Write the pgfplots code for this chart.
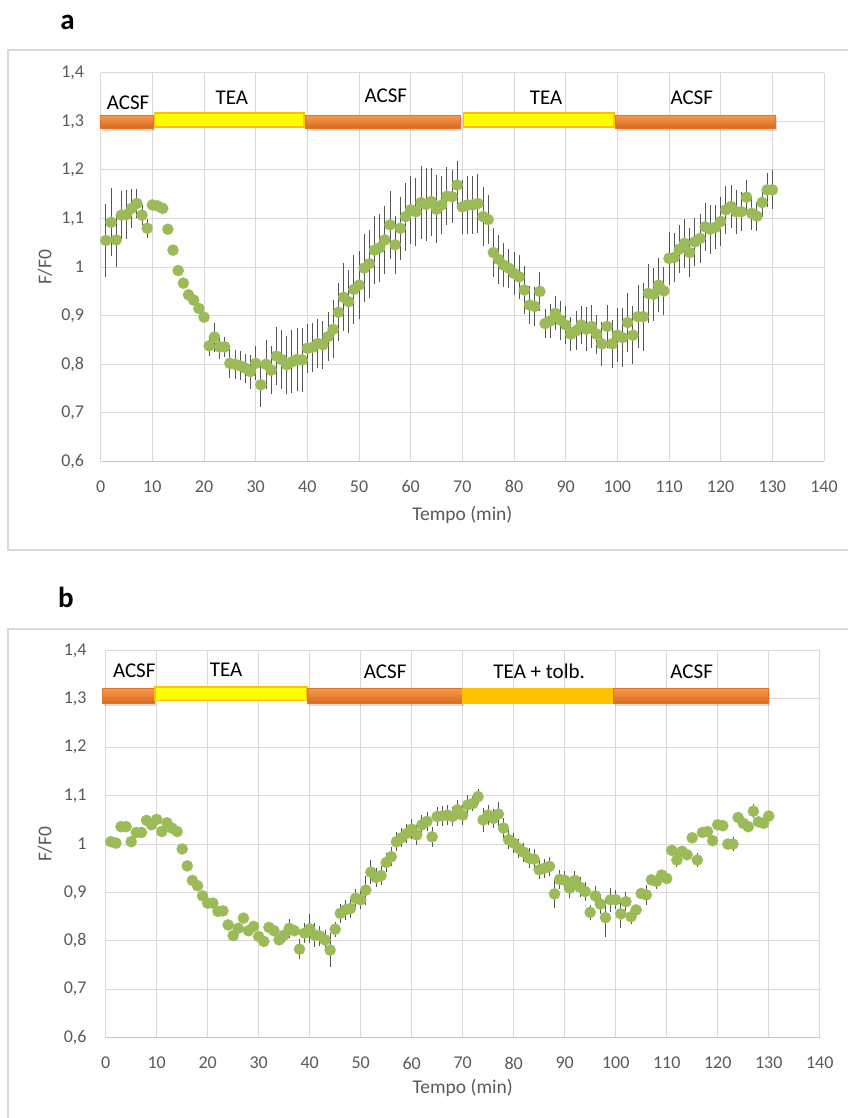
\documentclass[border=0pt]{standalone}
\usepackage{fontspec}
\setmainfont{Carlito}
\usepackage{pgfplots}
\usepackage{pgfplotstable}
\pgfplotsset{compat=1.18}

\definecolor{gridgray}{HTML}{D9D9D9}
\definecolor{framegray}{HTML}{D9D9D9}
\definecolor{basegray}{HTML}{C8C8C8}
\definecolor{textgray}{HTML}{595959}
\definecolor{ptgreen}{HTML}{9BBB59}
\definecolor{errgray}{HTML}{555555}
\definecolor{acsfTop}{HTML}{F89A4C}
\definecolor{acsfBot}{HTML}{D66A20}
\definecolor{acsfEdge}{HTML}{E0752A}
\definecolor{teaYellow}{HTML}{FFFF00}
\definecolor{teaEdge}{HTML}{FFC000}
\definecolor{tolbGold}{HTML}{FFC000}

% F/F0 over time, TEA protocol (x = min, y = mean, e = SEM)
\pgfplotstableread{
x y e
1 1.055 0.075
2 1.092 0.070
3 1.056 0.055
4 1.107 0.050
5 1.108 0.050
6 1.121 0.040
7 1.131 0.030
8 1.107 0.020
9 1.080 0.020
10 1.128 0.005
11 1.126 0.005
12 1.121 0.005
13 1.078 0
14 1.035 0
15 0.993 0
16 0.967 0
17 0.943 0
18 0.932 0
19 0.915 0
20 0.897 0
21 0.838 0.020
22 0.856 0.030
23 0.836 0.025
24 0.836 0.020
25 0.802 0.030
26 0.800 0.030
27 0.797 0.030
28 0.792 0.030
29 0.785 0.035
30 0.802 0.035
31 0.758 0.045
32 0.800 0.050
33 0.788 0.050
34 0.817 0.060
35 0.810 0.060
36 0.799 0.060
37 0.805 0.065
38 0.810 0.065
39 0.809 0.065
40 0.833 0.050
41 0.835 0.050
42 0.843 0.050
43 0.840 0.050
44 0.857 0.050
45 0.872 0.060
46 0.907 0.060
47 0.938 0.070
48 0.929 0.065
49 0.954 0.070
50 0.963 0.070
51 0.998 0.070
52 1.007 0.070
53 1.035 0.070
54 1.040 0.070
55 1.056 0.070
56 1.087 0.070
57 1.046 0.060
58 1.080 0.065
59 1.104 0.070
60 1.118 0.070
61 1.114 0.070
62 1.133 0.075
63 1.129 0.075
64 1.135 0.070
65 1.119 0.070
66 1.128 0.060
67 1.146 0.060
68 1.145 0.055
69 1.169 0.050
70 1.124 0.055
71 1.128 0.060
72 1.128 0.060
73 1.131 0.060
74 1.104 0.060
75 1.098 0.050
76 1.030 0.050
77 1.016 0.050
78 1.004 0.045
79 0.998 0.040
80 0.987 0.045
81 0.980 0.045
82 0.953 0.050
83 0.922 0.040
84 0.919 0.040
85 0.950 0.040
86 0.884 0.030
87 0.889 0.035
88 0.905 0.035
89 0.891 0.040
90 0.881 0.040
91 0.862 0.035
92 0.869 0.040
93 0.881 0.040
94 0.872 0.045
95 0.878 0.045
96 0.862 0.040
97 0.842 0.045
98 0.878 0.045
99 0.842 0.050
100 0.860 0.055
101 0.855 0.060
102 0.886 0.060
103 0.860 0.060
104 0.898 0.065
105 0.898 0.070
106 0.946 0.060
107 0.944 0.055
108 0.963 0.055
109 0.951 0.050
110 1.018 0.055
111 1.020 0.050
112 1.037 0.050
113 1.049 0.050
114 1.030 0.050
115 1.052 0.050
116 1.059 0.050
117 1.083 0.050
118 1.078 0.050
119 1.082 0.045
120 1.094 0.050
121 1.118 0.050
122 1.125 0.045
123 1.114 0.045
124 1.114 0.040
125 1.144 0.035
126 1.111 0.035
127 1.105 0.030
128 1.133 0.030
129 1.159 0.035
130 1.159 0.040
}\dataA

% F/F0 over time, TEA + tolbutamide protocol
\pgfplotstableread{
x y e
1 1.005 0
2 1.002 0
3 1.036 0
4 1.036 0
5 1.005 0
6 1.024 0
7 1.024 0
8 1.049 0
9 1.040 0
10 1.051 0
11 1.026 0
12 1.044 0
13 1.033 0
14 1.026 0
15 0.990 0
16 0.955 0
17 0.925 0
18 0.914 0
19 0.893 0
20 0.878 0
21 0.878 0
22 0.861 0
23 0.862 0
24 0.833 0
25 0.811 0
26 0.826 0
27 0.847 0
28 0.821 0
29 0.830 0
30 0.809 0
31 0.799 0
32 0.828 0
33 0.821 0
34 0.802 0
35 0.812 0.015
36 0.826 0.020
37 0.821 0.010
38 0.783 0.020
39 0.816 0.020
40 0.825 0.030
41 0.812 0.025
42 0.810 0.020
43 0.802 0.020
44 0.781 0.035
45 0.824 0.015
46 0.857 0.020
47 0.864 0.020
48 0.867 0.020
49 0.888 0.020
50 0.885 0.020
51 0.905 0.030
52 0.942 0.025
53 0.931 0.020
54 0.935 0.020
55 0.962 0.020
56 0.974 0.020
57 1.005 0.020
58 1.013 0.020
59 1.022 0.020
60 1.031 0.020
61 1.019 0.020
62 1.040 0.020
63 1.047 0.020
64 1.015 0.020
65 1.057 0.020
66 1.058 0.020
67 1.060 0.020
68 1.057 0.020
69 1.071 0.020
70 1.060 0.020
71 1.081 0.020
72 1.084 0.015
73 1.098 0.015
74 1.050 0.025
75 1.060 0.020
76 1.053 0.020
77 1.062 0.025
78 1.033 0.020
79 1.009 0.020
80 1.002 0.020
81 0.991 0.020
82 0.983 0.020
83 0.971 0.020
84 0.969 0.020
85 0.947 0.020
86 0.950 0.020
87 0.954 0.020
88 0.897 0.030
89 0.927 0.020
90 0.925 0.020
91 0.909 0.020
92 0.925 0.020
93 0.911 0.020
94 0.902 0.020
95 0.859 0.015
96 0.893 0.020
97 0.876 0.020
98 0.848 0.040
99 0.885 0.025
100 0.885 0.020
101 0.856 0.030
102 0.881 0.020
103 0.850 0.015
104 0.864 0.010
105 0.898 0.010
106 0.895 0.020
107 0.926 0.010
108 0.923 0.015
109 0.936 0.010
110 0.929 0.010
111 0.987 0.010
112 0.967 0.015
113 0.985 0.010
114 0.978 0.010
115 1.013 0.010
116 0.967 0.015
117 1.024 0.010
118 1.026 0.010
119 1.007 0.010
120 1.040 0.010
121 1.038 0.010
122 1.000 0.010
123 1.000 0.015
124 1.055 0.010
125 1.043 0.010
126 1.036 0.010
127 1.068 0.015
128 1.046 0.010
129 1.043 0.010
130 1.058 0.010
}\dataB

\tikzset{
  stage/.style={font=\fontsize{21}{24}\selectfont, text=black, anchor=center},
}

\pgfplotsset{
  panel/.style={
    scale only axis,
    xmin=0, xmax=140, ymin=0.6, ymax=1.4,
    clip=false,
    xtick={0,10,20,30,40,50,60,70,80,90,100,110,120,130,140},
    xticklabels={0,10,20,30,40,50,60,70,80,90,100,110,120,130,140},
    ytick={0.6,0.7,0.8,0.9,1,1.1,1.2,1.3,1.4},
    yticklabels={{0,6},{0,7},{0,8},{0,9},{1},{1,1},{1,2},{1,3},{1,4}},
    grid=major,
    major grid style={draw=gridgray, line width=1pt},
    major tick length=0pt,
    axis line style={draw=none},
    tick label style={font=\fontsize{18}{21}\selectfont, text=textgray, inner sep=0pt},
    xticklabel style={anchor=north, yshift=-19pt},
    label style={font=\fontsize{19.5}{22}\selectfont, text=textgray},
    xlabel={Tempo (min)},
    ylabel={F/F0},
  },
  errs/.style={
    draw=none, mark=none, forget plot,
    error bars/.cd, y dir=both, y explicit,
    error mark=none,
    error bar style={draw=errgray, line width=1pt},
  },
  pts/.style={
    color=ptgreen, only marks, mark=*, mark size=5.6pt,
    mark options={fill=ptgreen, draw=ptgreen, line width=0.3pt},
  },
  acsf/.style={top color=acsfTop, bottom color=acsfBot, draw=acsfEdge, line width=0.8pt},
  tea/.style={fill=teaYellow, draw=teaEdge, line width=1.6pt},
  tolb/.style={fill=tolbGold, draw=tolbGold, line width=0.8pt},
  shadow/.style={fill=black, fill opacity=0.14, draw=none},
}

\begin{document}
\begin{tikzpicture}[x=1pt, y=1pt]
\useasboundingbox (0,0) rectangle (847,1118);

% panel frames
\draw[framegray, line width=2pt] (8,568) rectangle (852,1068);
\draw[framegray, line width=2pt] (8,-6) rectangle (852,489);

\node[font=\bfseries\fontsize{29}{32}\selectfont] at (67.5,1096) {a};
\node[font=\bfseries\fontsize{29}{32}\selectfont] at (66,521) {b};

% ---------- panel a ----------
\begin{axis}[panel,
  at={(100.7pt,656.5pt)}, anchor=south west,
  width=723.3pt, height=388.7pt,
  yticklabel style={anchor=east, xshift=-16.5pt},
  xlabel style={at={(axis description cs:0.5,-0.1376)}, anchor=center},
  ylabel style={at={(axis description cs:-0.077,0.5)}, anchor=center},
]
\draw[basegray, line width=1pt] (axis cs:0,0.6) -- (axis cs:140,0.6);

% solution bars
\addplot[shadow] coordinates {(0.3,1.280) (10.5,1.280) (10.5,1.307) (0.3,1.307)} -- cycle;
\addplot[shadow] coordinates {(39.9,1.280) (70.0,1.280) (70.0,1.307) (39.9,1.307)} -- cycle;
\addplot[shadow] coordinates {(99.9,1.280) (130.9,1.280) (130.9,1.307) (99.9,1.307)} -- cycle;
\addplot[acsf] coordinates {(0,1.286) (10.2,1.286) (10.2,1.313) (0,1.313)} -- cycle;
\addplot[tea] coordinates {(10.4,1.289) (39.4,1.289) (39.4,1.317) (10.4,1.317)} -- cycle;
\addplot[acsf] coordinates {(39.6,1.286) (69.7,1.286) (69.7,1.313) (39.6,1.313)} -- cycle;
\addplot[tea] coordinates {(70.2,1.289) (99.4,1.289) (99.4,1.317) (70.2,1.317)} -- cycle;
\addplot[acsf] coordinates {(99.6,1.286) (130.6,1.286) (130.6,1.313) (99.6,1.313)} -- cycle;

\node[stage] at (axis cs:5.3,1.338) {ACSF};
\node[stage] at (axis cs:25.4,1.348) {TEA};
\node[stage] at (axis cs:55.2,1.352) {ACSF};
\node[stage] at (axis cs:86.2,1.348) {TEA};
\node[stage] at (axis cs:114.4,1.348) {ACSF};

\addplot[errs] table[x=x, y=y, y error=e] {\dataA};
\addplot[pts] table[x=x, y=y] {\dataA};
\end{axis}

% ---------- panel b ----------
\begin{axis}[panel,
  at={(105.7pt,80.3pt)}, anchor=south west,
  width=714pt, height=387.2pt,
  yticklabel style={anchor=east, xshift=-19pt},
  xlabel style={at={(axis description cs:0.5,-0.129)}, anchor=center},
  ylabel style={at={(axis description cs:-0.085,0.5)}, anchor=center},
]
\draw[basegray, line width=1pt] (axis cs:0,0.6) -- (axis cs:140,0.6);

\addplot[shadow] coordinates {(-0.3,1.285) (9.9,1.285) (9.9,1.312) (-0.3,1.312)} -- cycle;
\addplot[shadow] coordinates {(39.8,1.285) (70.3,1.285) (70.3,1.312) (39.8,1.312)} -- cycle;
\addplot[shadow] coordinates {(99.8,1.285) (130.3,1.285) (130.3,1.312) (99.8,1.312)} -- cycle;
\addplot[acsf] coordinates {(-0.6,1.291) (9.6,1.291) (9.6,1.322) (-0.6,1.322)} -- cycle;
\addplot[tea] coordinates {(9.7,1.297) (39.5,1.297) (39.5,1.324) (9.7,1.324)} -- cycle;
\addplot[acsf] coordinates {(39.5,1.291) (70.0,1.291) (70.0,1.322) (39.5,1.322)} -- cycle;
\addplot[tolb] coordinates {(70.0,1.291) (99.5,1.291) (99.5,1.322) (70.0,1.322)} -- cycle;
\addplot[acsf] coordinates {(99.5,1.291) (130.0,1.291) (130.0,1.322) (99.5,1.322)} -- cycle;

\node[stage] at (axis cs:5.6,1.358) {ACSF};
\node[stage] at (axis cs:23.6,1.361) {TEA};
\node[stage] at (axis cs:54.8,1.356) {ACSF};
\node[stage] at (axis cs:85.0,1.358) {TEA + tolb.};
\node[stage] at (axis cs:114.9,1.356) {ACSF};

\addplot[errs] table[x=x, y=y, y error=e] {\dataB};
\addplot[pts] table[x=x, y=y] {\dataB};
\end{axis}
\end{tikzpicture}
\end{document}
